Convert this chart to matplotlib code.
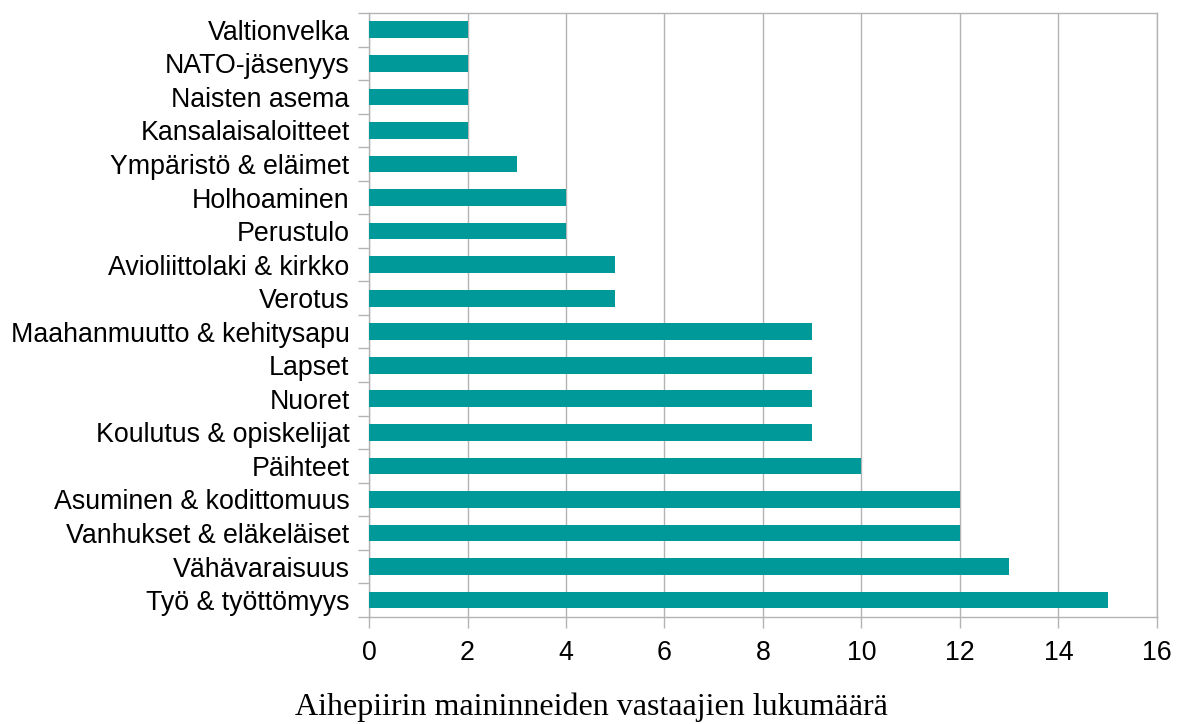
import numpy as np
import matplotlib.pyplot as plt

# Aihepiirit (alhaalta ylös) ja mainintojen määrät
categories = ["Työ & työttömyys", "Vähävaraisuus", "Vanhukset & eläkeläiset",
              "Asuminen & kodittomuus", "Päihteet", "Koulutus & opiskelijat",
              "Nuoret", "Lapset", "Maahanmuutto & kehitysapu", "Verotus",
              "Avioliittolaki & kirkko", "Perustulo", "Holhoaminen",
              "Ympäristö & eläimet", "Kansalaisaloitteet", "Naisten asema",
              "NATO-jäsenyys", "Valtionvelka"]
counts = [15, 13, 12, 12, 10, 9, 9, 9, 9, 5, 5, 4, 4, 3, 2, 2, 2, 2]
xticks = [0, 2, 4, 6, 8, 10, 12, 14, 16]

plt.rcParams['font.family'] = ['Liberation Sans', 'DejaVu Sans']
grey = '#b3b3b3'

fig = plt.figure(figsize=(11.79, 7.24), dpi=100)
ax = fig.add_axes([0.313, 0.148, 0.9813 - 0.313, 0.982 - 0.148])

y = np.arange(len(categories))
ax.barh(y, counts, height=0.5, color='#009999', zorder=3)

ax.set_xlim(0, 16)
ax.set_ylim(-0.5, len(categories) - 0.5)
ax.set_xticks(xticks)
ax.set_xticklabels([str(t) for t in xticks], fontsize=19.3)
ax.set_yticks(y)
ax.set_yticklabels(categories, fontsize=19.3)
ax.set_yticks(np.arange(-0.5, len(categories), 1), minor=True)

ax.tick_params(axis='y', which='major', length=0, pad=14)
ax.tick_params(axis='y', which='minor', length=8, color=grey, width=1)
ax.tick_params(axis='x', length=8, color=grey, width=1, pad=9)

ax.grid(axis='x', color=grey, linewidth=1, zorder=0)
for side in ['left', 'right', 'top', 'bottom']:
    ax.spines[side].set_color(grey)
    ax.spines[side].set_linewidth(1)

fig.text(0.502, 0.012, "Aihepiirin maininneiden vastaajien lukumäärä",
         family=['Liberation Serif', 'DejaVu Serif'], fontsize=23,
         ha='center', va='baseline')

fig.savefig("out.png", dpi=100)
